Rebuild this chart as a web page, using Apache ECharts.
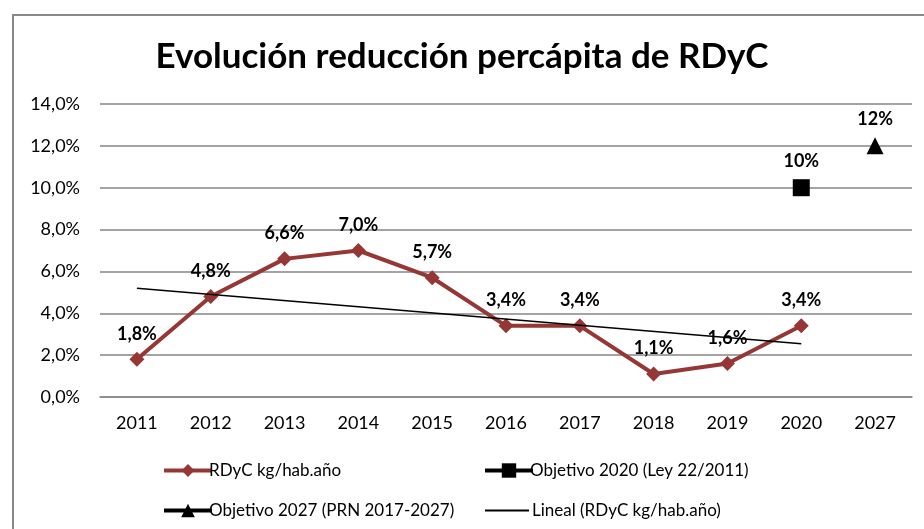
<!DOCTYPE html>
<html><head><meta charset="utf-8">
<script src="https://cdn.jsdelivr.net/npm/echarts@6/dist/echarts.min.js"></script>
<style>html,body{margin:0;padding:0;background:#fff}#c{width:924px;height:529px}</style>
</head><body><div id="c"></div>
<script>
var categories = ['2011','2012','2013','2014','2015','2016','2017','2018','2019','2020','2027'];
var rdyc = [1.8, 4.8, 6.6, 7.0, 5.7, 3.4, 3.4, 1.1, 1.6, 3.4, null];
var objetivo2020 = [null, null, null, null, null, null, null, null, null, 10, null];
var objetivo2027 = [null, null, null, null, null, null, null, null, null, null, 12];
var lineal = [5.2, null, null, null, null, null, null, null, null, 2.55, null];
var yTicks = [0, 2, 4, 6, 8, 10, 12, 14];

var FONT = 'Lato';
function pct1(v){ return v.toFixed(1).replace('.', ',') + '%'; }
var labelBase = {show:true, position:'top', distance:9, fontFamily:FONT, fontSize:18, fontWeight:'bold', color:'#000'};
var legText = {fontFamily:FONT, fontSize:17, color:'#000', padding:[0,0,0,-8]};

var chart = echarts.init(document.getElementById('c'), null, {renderer:'canvas'});
chart.setOption({
  animation:false,
  backgroundColor:'#fff',
  graphic:[{type:'rect', shape:{x:13, y:15, width:960, height:600}, style:{fill:'none', stroke:'#898989', lineWidth:2}, z:-1}],
  title:{text:'Evolución reducción percápita de RDyC', left:'center', top:34,
    textStyle:{fontFamily:FONT, fontSize:35, fontWeight:'bold', color:'#000'}},
  grid:{left:100, right:12, top:104, bottom:132},
  xAxis:{type:'category', data:categories, boundaryGap:true,
    axisLine:{show:true, lineStyle:{color:'#868686', width:1.5}},
    axisTick:{show:false},
    axisLabel:{fontFamily:FONT, fontSize:18, color:'#000', margin:17}},
  yAxis:{type:'value', min:0, max:14, interval:2,
    axisLine:{show:false}, axisTick:{show:false},
    splitLine:{lineStyle:{color:'#868686', width:1.5}},
    axisLabel:{fontFamily:FONT, fontSize:18, color:'#000', margin:20, formatter:function(v){return pct1(v);}}},
  legend:[
    {data:['RDyC kg/hab.año'], left:157, top:457, itemWidth:48, itemHeight:16, textStyle:legText,
      lineStyle:{width:4}},
    {data:['Objetivo 2020 (Ley 22/2011)'], left:478, top:457, itemWidth:48, itemHeight:18, textStyle:legText,
      lineStyle:{width:4}},
    {data:['Objetivo 2027 (PRN 2017-2027)'], left:157, top:497, itemWidth:48, itemHeight:17, textStyle:legText,
      lineStyle:{width:4}},
    {data:[{name:'Lineal (RDyC kg/hab.año)', icon:'rect'}], left:480, top:497, itemWidth:44, itemHeight:2,
      itemStyle:{color:'#000'}, textStyle:{fontFamily:FONT, fontSize:17, color:'#000', padding:[0,0,0,-2]}}
  ],
  series:[
    {name:'Lineal (RDyC kg/hab.año)', type:'line', data:lineal, connectNulls:true, symbol:'none',
      lineStyle:{color:'#000', width:1.5}, itemStyle:{color:'#000'}, z:3, silent:true},
    {name:'RDyC kg/hab.año', type:'line', data:rdyc, symbol:'diamond', symbolSize:15,
      lineStyle:{color:'#953735', width:4}, itemStyle:{color:'#953735'}, z:2,
      label:Object.assign({}, labelBase, {formatter:function(p){return pct1(p.value);}})},
    {name:'Objetivo 2020 (Ley 22/2011)', type:'line', data:objetivo2020, symbol:'rect', symbolSize:17,
      lineStyle:{color:'#000', width:4}, itemStyle:{color:'#000'},
      label:Object.assign({}, labelBase, {formatter:function(p){return p.value + '%';}})},
    {name:'Objetivo 2027 (PRN 2017-2027)', type:'line', data:objetivo2027, symbol:'triangle', symbolSize:17,
      lineStyle:{color:'#000', width:4}, itemStyle:{color:'#000'},
      label:Object.assign({}, labelBase, {formatter:function(p){return p.value + '%';}})}
  ]
});
</script></body></html>
